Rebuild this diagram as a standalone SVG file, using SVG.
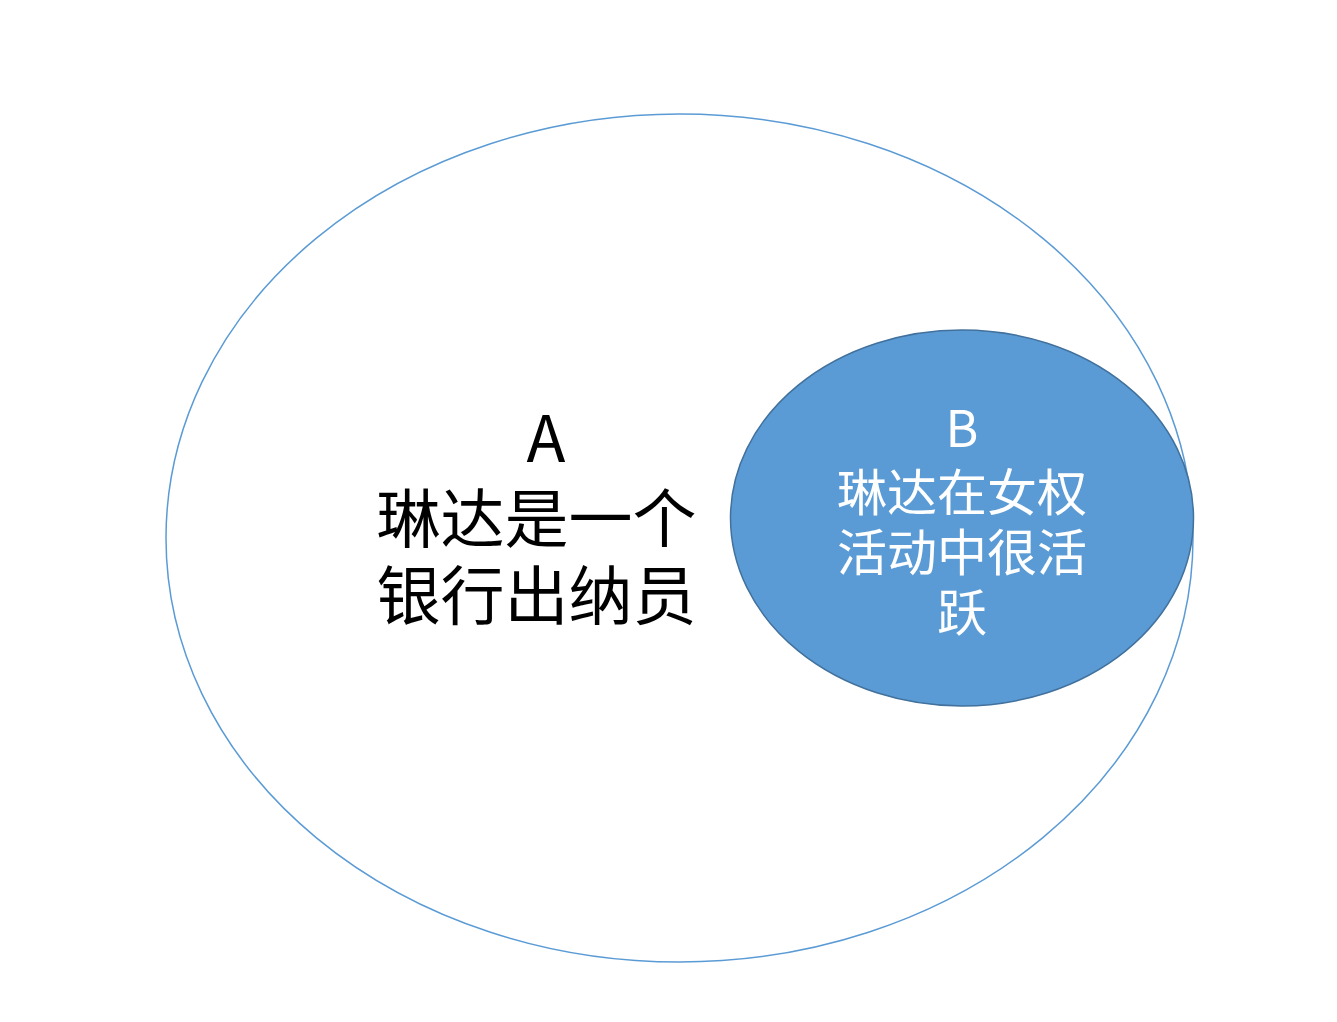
<svg xmlns="http://www.w3.org/2000/svg" width="1337" height="1022" viewBox="0 0 1337 1022">
  <style>
    .cjk { font-family: "Noto Sans CJK SC", "Noto Sans", sans-serif; text-anchor: middle; }
    .a { font-size: 64px; fill: #000000; }
    .b { font-size: 50px; fill: #FFFFFF; }
  </style>
  <rect x="0" y="0" width="1337" height="1022" fill="#FFFFFF"/>
  <g id="nodeA">
    <ellipse cx="679.5" cy="538" rx="513.5" ry="424" fill="none" stroke="#5B9BD5" stroke-width="1.5"/>
    <text class="cjk a" x="546" y="462">A</text>
    <text class="cjk a" x="536.5" y="542">琳达是一个</text>
    <text class="cjk a" x="536.5" y="619">银行出纳员</text>
  </g>
  <g id="nodeB">
    <ellipse cx="962" cy="518" rx="231.5" ry="188" fill="#5B9BD5" stroke="#41719C" stroke-width="1.5"/>
    <text class="cjk b" x="962" y="447">B</text>
    <text class="cjk b" x="962" y="511">琳达在女权</text>
    <text class="cjk b" x="962" y="571">活动中很活</text>
    <text class="cjk b" x="962" y="631">跃</text>
  </g>
  <g id="connectors"></g>
</svg>
